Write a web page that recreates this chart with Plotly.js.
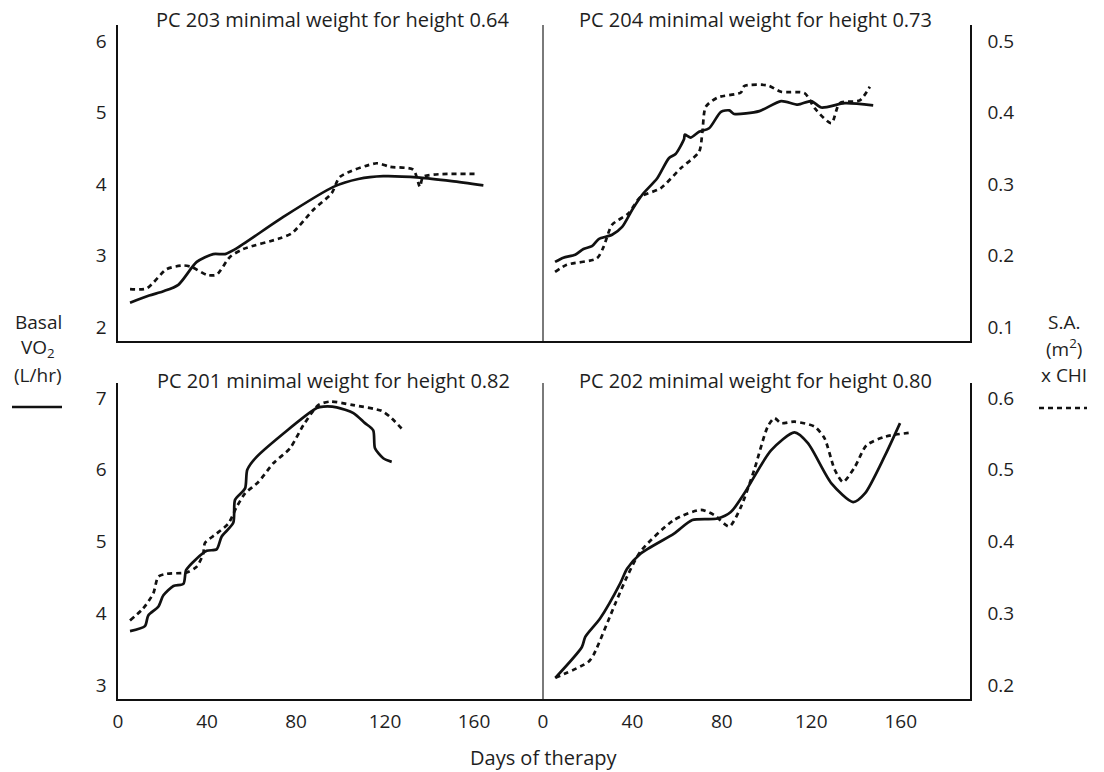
<!DOCTYPE html>
<html>
<head>
<meta charset="utf-8">
<script src="https://cdn.plot.ly/plotly-3.0.1.min.js"></script>
<style>html,body{margin:0;padding:0;background:#fff;}#chart{width:1104px;height:772px;}</style>
</head>
<body>
<div id="chart"></div>
<script>
// Panel titles
const panelTitles = [
  "PC 203 minimal weight for height 0.64",
  "PC 204 minimal weight for height 0.73",
  "PC 201 minimal weight for height 0.82",
  "PC 202 minimal weight for height 0.80"
];
const leftLegendLines = ["Basal", "VO<sub>2</sub>", "(L/hr)"];
const rightLegendLines = ["S.A.", "(m<sup>2</sup>)", "x CHI"];
const xTicks = [0, 40, 80, 120, 160];
const vo2TicksTop = [2, 3, 4, 5, 6];
const vo2TicksBottom = [3, 4, 5, 6, 7];
const saTicksTop = [0.1, 0.2, 0.3, 0.4, 0.5];
const saTicksBottom = [0.2, 0.3, 0.4, 0.5, 0.6];
const saTickTextTop = ["0.1", "0.2", "0.3", "0.4", "0.5"];
const saTickTextBottom = ["0.2", "0.3", "0.4", "0.5", "0.6"];

// PC 203 (top-left)
const days203_vo2 = [5.4, 14, 20.4, 27.1, 35.4, 42.8, 48.1, 53.3, 74.3, 96.8, 108, 119.2, 135.7, 150, 164.2];
const vo2_203 = [2.34, 2.44, 2.50, 2.59, 2.91, 3.02, 3.02, 3.10, 3.54, 3.96, 4.07, 4.11, 4.09, 4.04, 3.98];
const days203_sa = [5.4, 12.9, 21.9, 29.4, 33.1, 39.9, 44.3, 50.3, 56.3, 72.8, 78.1, 87.8, 96.0, 99.8, 116.3, 122.2, 132.7, 135.7, 137.2, 161.2];
const sa_203 = [0.153, 0.154, 0.181, 0.186, 0.184, 0.173, 0.173, 0.198, 0.209, 0.224, 0.231, 0.264, 0.287, 0.310, 0.329, 0.324, 0.320, 0.296, 0.310, 0.314];

// PC 204 (top-right)
const days204_vo2 = [5.4, 9.1, 14.4, 18.1, 21.9, 24.9, 30.9, 35.4, 39.9, 44.4, 51.1, 56.3, 59.3, 63.1, 63.4, 66.1, 69.8, 74.3, 79.6, 83.3, 85.5, 96.8, 106.5, 114.0, 120.0, 124.5, 135.0, 147.7];
const vo2_204 = [2.91, 2.97, 3.01, 3.09, 3.13, 3.23, 3.29, 3.40, 3.64, 3.85, 4.08, 4.36, 4.42, 4.63, 4.69, 4.65, 4.73, 4.78, 5.01, 5.03, 4.98, 5.02, 5.16, 5.11, 5.16, 5.07, 5.13, 5.10];
const days204_sa = [5.4, 10.6, 24.1, 27.1, 30.9, 38.3, 43.6, 52.6, 61.6, 69.8, 71.3, 72.8, 78.1, 88.5, 90.0, 100.5, 106.5, 117.0, 121.5, 129.0, 132.7, 141.7, 146.2];
const sa_204 = [0.177, 0.187, 0.196, 0.212, 0.243, 0.259, 0.282, 0.294, 0.322, 0.345, 0.373, 0.408, 0.421, 0.428, 0.437, 0.438, 0.429, 0.427, 0.406, 0.385, 0.413, 0.417, 0.436];

// PC 201 (bottom-left)
const days201_vo2 = [5.4, 12.1, 13.6, 18.1, 20.4, 24.9, 29.4, 30.6, 34.6, 39.9, 44.3, 46.6, 51.8, 52.6, 57.1, 58.1, 62.3, 89.3, 92.3, 98.3, 105.8, 111.0, 114.7, 115.5, 119.2, 123.0];
const vo2_201 = [3.75, 3.82, 3.97, 4.09, 4.25, 4.38, 4.41, 4.60, 4.74, 4.87, 4.89, 5.07, 5.26, 5.58, 5.74, 6.00, 6.18, 6.86, 6.88, 6.87, 6.79, 6.65, 6.55, 6.30, 6.16, 6.11];
const days201_sa = [5.4, 11.4, 15.9, 18.1, 21.9, 30.9, 35.4, 38.3, 39.1, 44.3, 49.6, 53.3, 57.1, 63.1, 69.8, 77.3, 83.3, 90.0, 95.3, 105.8, 118.5, 122.2, 128.2];
const sa_201 = [0.290, 0.307, 0.328, 0.351, 0.355, 0.357, 0.365, 0.383, 0.398, 0.411, 0.425, 0.448, 0.467, 0.483, 0.509, 0.530, 0.562, 0.590, 0.595, 0.590, 0.582, 0.574, 0.555];

// PC 202 (bottom-right)
const days202_vo2 = [5.5, 17.4, 18.9, 25.6, 34.6, 37.6, 43.6, 58.6, 66.8, 78.1, 84.0, 90.0, 102.0, 112.5, 118.5, 129.0, 138.7, 144.0, 153.0, 159.7];
const vo2_202 = [3.10, 3.53, 3.67, 3.93, 4.42, 4.62, 4.83, 5.11, 5.30, 5.32, 5.41, 5.67, 6.27, 6.52, 6.37, 5.81, 5.55, 5.67, 6.20, 6.65];
const days202_sa = [5.5, 20.2, 22.6, 32.4, 37.6, 43.6, 58.6, 70.6, 76.5, 83.3, 88.5, 94.5, 100.5, 103.5, 106.5, 112.5, 121.5, 125.9, 130.5, 134.2, 139.5, 144.7, 153.0, 165.0];
const sa_202 = [0.210, 0.232, 0.242, 0.314, 0.351, 0.386, 0.430, 0.444, 0.437, 0.421, 0.448, 0.500, 0.560, 0.572, 0.565, 0.567, 0.560, 0.544, 0.500, 0.483, 0.504, 0.534, 0.546, 0.552];

const W = 1104, H = 772;
const px = v => v / W;
const py = v => 1 - v / H;
const FONT = "Open Sans, Noto Sans, sans-serif";
const TXT = "#1e1e1e";

const solid = {color: "#111", width: 2.7, shape: "spline", smoothing: 0.7};
const dashed = {color: "#111", width: 2.7, dash: "5px,4px", shape: "spline", smoothing: 0.7};

const traces = [
  {x: days203_vo2, y: vo2_203, xaxis: "x", yaxis: "y", mode: "lines", line: solid, name: "VO2"},
  {x: days203_sa, y: sa_203, xaxis: "x", yaxis: "y2", mode: "lines", line: dashed, name: "SA"},
  {x: days204_vo2, y: vo2_204, xaxis: "x2", yaxis: "y3", mode: "lines", line: solid, name: "VO2"},
  {x: days204_sa, y: sa_204, xaxis: "x2", yaxis: "y4", mode: "lines", line: dashed, name: "SA"},
  {x: days201_vo2, y: vo2_201, xaxis: "x3", yaxis: "y5", mode: "lines", line: solid, name: "VO2"},
  {x: days201_sa, y: sa_201, xaxis: "x3", yaxis: "y6", mode: "lines", line: dashed, name: "SA"},
  {x: days202_vo2, y: vo2_202, xaxis: "x4", yaxis: "y7", mode: "lines", line: solid, name: "VO2"},
  {x: days202_sa, y: sa_202, xaxis: "x4", yaxis: "y8", mode: "lines", line: dashed, name: "SA"}
];

const leftDom = [px(118), px(543)];
const rightDom = [px(543), px(970)];
const topDom = [py(341), py(25)];
const botDom = [py(699), py(383)];
const topVO2 = [1.804, 6.224];
const botVO2 = [2.805, 7.209];
const toSA = r => [(r[0] - 1) / 10, (r[1] - 1) / 10];

const tickFont = {family: FONT, size: 19, color: TXT};
function xAx(dom, anchor, showLabels) {
  return {domain: dom, anchor: anchor, range: [0, 191], showgrid: false, zeroline: false,
    showline: true, linecolor: "#111", linewidth: 1.6,
    tickvals: xTicks, showticklabels: showLabels,
    ticks: showLabels ? "outside" : "", ticklen: 5, tickcolor: "rgba(0,0,0,0)",
    tickfont: tickFont, fixedrange: true};
}
function yAxShown(dom, anchor, range, vals, text, side, overlay, tl) {
  const a = {domain: dom, anchor: anchor, range: range, side: side, showgrid: false, zeroline: false,
    showline: true, linecolor: "#111", linewidth: 1.6, tickvals: vals,
    ticks: "outside", ticklen: tl, tickcolor: "rgba(0,0,0,0)", tickfont: tickFont, fixedrange: true};
  if (text) a.ticktext = text;
  if (overlay) a.overlaying = overlay;
  return a;
}
function yAxHidden(dom, anchor, range, overlay) {
  const a = {domain: dom, anchor: anchor, range: range, visible: false, showgrid: false, zeroline: false, fixedrange: true};
  if (overlay) a.overlaying = overlay;
  return a;
}

const annotations = [];
const titleCenters = [[333, 20], [755, 20], [333, 380], [755, 380]];
panelTitles.forEach((t, i) => {
  annotations.push({text: t, xref: "paper", yref: "paper", x: px(titleCenters[i][0]), y: py(titleCenters[i][1]),
    xanchor: "center", yanchor: "middle", showarrow: false, font: {family: FONT, size: 20, color: TXT}});
});
annotations.push({text: "Days of therapy", xref: "paper", yref: "paper", x: px(543), y: py(757),
  xanchor: "center", yanchor: "middle", showarrow: false, font: {family: FONT, size: 20, color: TXT}});
const legendYs = [322, 348, 375];
leftLegendLines.forEach((t, i) => {
  annotations.push({text: t, xref: "paper", yref: "paper", x: px(38), y: py(legendYs[i]),
    xanchor: "center", yanchor: "middle", showarrow: false, font: {family: FONT, size: 19, color: TXT}});
});
rightLegendLines.forEach((t, i) => {
  annotations.push({text: t, xref: "paper", yref: "paper", x: px(1064), y: py(legendYs[i]),
    xanchor: "center", yanchor: "middle", showarrow: false, font: {family: FONT, size: 19, color: TXT}});
});

const shapes = [
  {type: "line", xref: "paper", yref: "paper", x0: px(543), x1: px(543), y0: py(341), y1: py(25), line: {color: "#7a7a7a", width: 2}},
  {type: "line", xref: "paper", yref: "paper", x0: px(543), x1: px(543), y0: py(699), y1: py(383), line: {color: "#7a7a7a", width: 2}},
  {type: "line", xref: "paper", yref: "paper", x0: px(12), x1: px(62), y0: py(407), y1: py(407), line: {color: "#111", width: 2.6}},
  {type: "line", xref: "paper", yref: "paper", x0: px(1039), x1: px(1087), y0: py(408), y1: py(408), line: {color: "#111", width: 2.4, dash: "5px,4px"}}
];

const layout = {
  width: W, height: H, margin: {l: 0, r: 0, t: 0, b: 0},
  paper_bgcolor: "#fff", plot_bgcolor: "rgba(0,0,0,0)",
  showlegend: false,
  font: {family: FONT, color: TXT},
  xaxis: xAx(leftDom, "y", false),
  xaxis2: xAx(rightDom, "y3", false),
  xaxis3: xAx(leftDom, "y5", true),
  xaxis4: xAx(rightDom, "y7", true),
  yaxis: yAxShown(topDom, "x", topVO2, vo2TicksTop, null, "left", null, 6),
  yaxis2: yAxHidden(topDom, "x", toSA(topVO2), "y"),
  yaxis3: yAxHidden(topDom, "x2", topVO2),
  yaxis4: yAxShown(topDom, "x2", toSA(topVO2), saTicksTop, saTickTextTop, "right", "y3", 12),
  yaxis5: yAxShown(botDom, "x3", botVO2, vo2TicksBottom, null, "left", null, 6),
  yaxis6: yAxHidden(botDom, "x3", toSA(botVO2), "y5"),
  yaxis7: yAxHidden(botDom, "x4", botVO2),
  yaxis8: yAxShown(botDom, "x4", toSA(botVO2), saTicksBottom, saTickTextBottom, "right", "y7", 12),
  annotations: annotations,
  shapes: shapes
};

Plotly.newPlot("chart", traces, layout, {staticPlot: true, displayModeBar: false});
</script>
</body>
</html>
